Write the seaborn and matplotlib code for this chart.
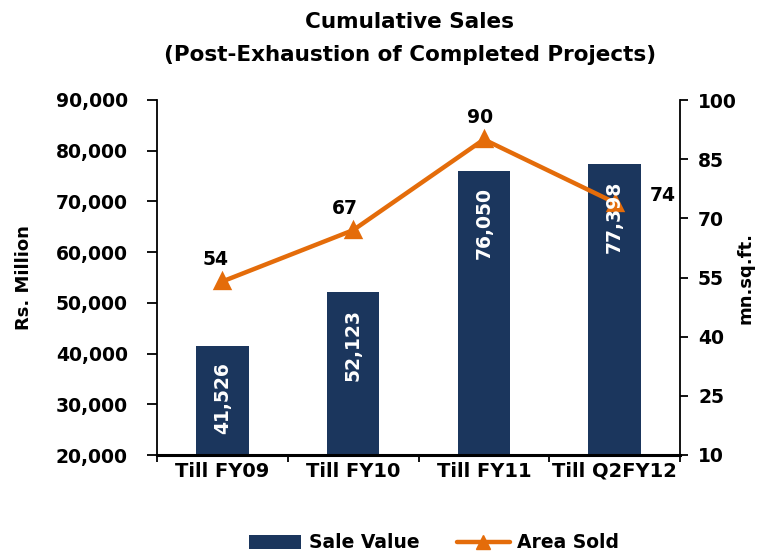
import matplotlib
matplotlib.use("Agg")
import matplotlib.pyplot as plt
import seaborn as sns
import pandas as pd
from matplotlib.patches import Patch
from matplotlib.lines import Line2D
from matplotlib.ticker import FuncFormatter

categories = ["Till FY09", "Till FY10", "Till FY11", "Till Q2FY12"]
sale_value = [41526, 52123, 76050, 77398]
area_sold = [54, 67, 90, 74]
left_ticks = [20000, 30000, 40000, 50000, 60000, 70000, 80000, 90000]
right_ticks = [10, 25, 40, 55, 70, 85, 100]

NAVY = "#1B365D"
ORANGE = "#E46C0A"

sns.set_theme(style="white")
plt.rcParams['font.family'] = ['DejaVu Sans']
plt.rcParams['font.weight'] = 'bold'
for k in ['text.color', 'axes.labelcolor', 'xtick.color', 'ytick.color']:
    plt.rcParams[k] = 'black'

df = pd.DataFrame({"cat": categories, "sale": sale_value, "area": area_sold})

fig = plt.figure(figsize=(7.63, 5.54), dpi=100)
ax = fig.add_axes([157/763, 1-455/554, (680-157)/763, (455-100)/554])

sns.barplot(data=df, x="cat", y="sale", ax=ax, color=NAVY, width=0.4,
            saturation=1, edgecolor="none")
ax.set_ylim(20000, 90000)
ax.set_yticks(left_ticks)
ax.yaxis.set_major_formatter(FuncFormatter(lambda v, p: f"{int(v):,}"))
ax.set_xlim(-0.5, 3.5)
ax.set_xlabel("")
ax.set_ylabel("Rs. Million", fontsize=13, fontweight='bold')
ax.yaxis.set_label_coords((33-157)/523, 0.5)

ax2 = ax.twinx()
sns.pointplot(data=df, x="cat", y="area", ax=ax2, color=ORANGE, markers="^",
              markersize=10, linewidth=3.2)
ax2.set_ylim(10, 100)
ax2.set_yticks(right_ticks)
ax2.set_xlim(-0.5, 3.5)
ax2.set_ylabel("mn.sq.ft.", fontsize=13, fontweight='bold', rotation=90)
ax2.yaxis.set_label_coords((737-157)/523, 0.5)
ax2.set_xlabel("")

# bar labels (drawn on top of the line)
for i, v in enumerate(sale_value):
    ax2.annotate(f"{v:,}", xy=(i, v), xycoords=ax.transData, xytext=(0, -12),
                 textcoords="offset points", rotation=90, ha="center", va="top",
                 color="white", fontsize=13.5, fontweight="bold", zorder=10)

offsets = [(-5, 9), (-6, 9), (-3, 9), (35, -2)]
for i, v in enumerate(area_sold):
    ax2.annotate(str(v), xy=(i, v), xytext=offsets[i], textcoords="offset points",
                 ha="center", va="bottom", fontsize=13.5, fontweight="bold", color="black")

# spines and ticks
for a in (ax, ax2):
    a.spines['top'].set_visible(False)
ax.spines['left'].set_linewidth(1.3)
ax.spines['left'].set_color('black')
ax2.spines['right'].set_linewidth(1.3)
ax2.spines['right'].set_color('black')
ax.spines['bottom'].set_linewidth(2.2)
ax.spines['bottom'].set_color('black')
ax2.spines['bottom'].set_visible(False)
ax2.spines['left'].set_visible(False)
ax.spines['right'].set_visible(False)

ax.set_xticks(range(len(categories)))
ax.set_xticklabels(categories, fontsize=14, fontweight='bold')
ax.set_xticks([-0.5, 0.5, 1.5, 2.5, 3.5], minor=True)
ax.tick_params(axis='x', which='major', length=0, pad=5)
ax.tick_params(axis='x', which='minor', length=5, width=1.3, direction='out', color='black', bottom=True)
ax.tick_params(axis='y', length=7, width=1.3, direction='out', color='black', left=True,
               labelsize=13.5, pad=14)
ax2.tick_params(axis='y', length=6, width=1.3, direction='out', color='black', right=True,
                labelsize=13.5, pad=7)
ax2.tick_params(axis='x', length=0)
for lbl in ax.get_yticklabels() + ax2.get_yticklabels():
    lbl.set_fontweight('bold')

fig.text(0.537, 1-22/554, "Cumulative Sales", ha="center", va="center",
         fontsize=15.5, fontweight="bold")
fig.text(0.537, 1-55/554, "(Post-Exhaustion of Completed Projects)", ha="center", va="center",
         fontsize=15.5, fontweight="bold")

handles = [Patch(facecolor=NAVY, edgecolor='none'),
           Line2D([0], [0], color=ORANGE, lw=3.2, marker="^", markersize=10)]
fig.legend(handles, ["Sale Value", "Area Sold"], loc="center",
           bbox_to_anchor=(434/763, 1-543/554), ncol=2, frameon=False,
           prop={'size': 13.5, 'weight': 'bold'}, handlelength=2.8,
           columnspacing=2.0, handletextpad=0.4)

fig.savefig("out.png", dpi=100)
